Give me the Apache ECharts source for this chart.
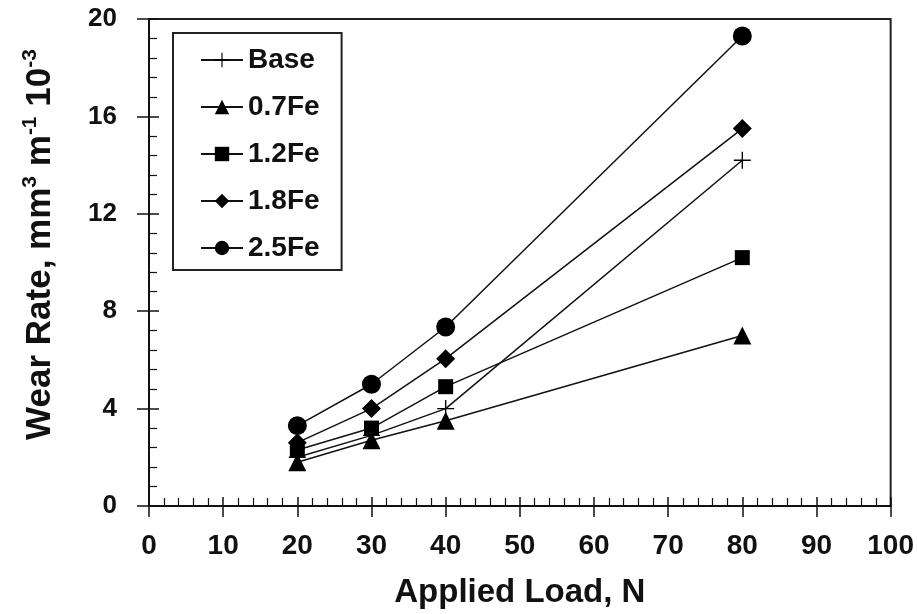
<!DOCTYPE html>
<html>
<head>
<meta charset="utf-8">
<script src="https://cdn.jsdelivr.net/npm/echarts@6/dist/echarts.min.js"></script>
<style>
  html, body { margin: 0; padding: 0; background: #fff; }
  #chart { width: 917px; height: 614px; }
</style>
</head>
<body>
<div id="chart"></div>
<script>
// Applied load (N) for each test
const loads = [20, 30, 40, 80];

// Wear rate (mm^3 m^-1 x10^-3) per alloy
const seriesNames = ['Base', '0.7Fe', '1.2Fe', '1.8Fe', '2.5Fe'];
const wearBase = [2.0, 2.9, 4.0, 14.2];
const wear07Fe = [1.8, 2.7, 3.5, 7.0];
const wear12Fe = [2.3, 3.2, 4.9, 10.2];
const wear18Fe = [2.6, 4.0, 6.05, 15.5];
const wear25Fe = [3.3, 5.0, 7.35, 19.3];

const xTicks = { min: 0, max: 100, interval: 10 };
const yTicks = { min: 0, max: 20, interval: 4 };

const FONT = '"Liberation Sans", Arial, sans-serif';

// thin plus sign drawn as a filled outline
const plusPath = 'path://M4.6,0 H5.4 V4.6 H10 V5.4 H5.4 V10 H4.6 V5.4 H0 V4.6 H4.6 Z';

const markers = [
  { symbol: plusPath, size: 17 },
  { symbol: 'triangle', size: 18 },
  { symbol: 'rect', size: 15 },
  { symbol: 'diamond', size: 19 },
  { symbol: 'circle', size: 19 }
];
const values = [wearBase, wear07Fe, wear12Fe, wear18Fe, wear25Fe];

const series = seriesNames.map((name, i) => ({
  name: name,
  type: 'line',
  xAxisIndex: 0,
  yAxisIndex: 0,
  data: loads.map((x, j) => [x, values[i][j]]),
  symbol: markers[i].symbol,
  symbolSize: markers[i].size,
  showAllSymbol: true,
  lineStyle: { color: '#111', width: 1.5 },
  itemStyle: { color: '#000' },
  z: 2 + i
}));

const chart = echarts.init(document.getElementById('chart'), null, { renderer: 'canvas' });

chart.setOption({
  animation: false,
  backgroundColor: '#fff',
  grid: {
    left: 149, right: 25, top: 19, bottom: 107,
    show: true, borderColor: '#222', borderWidth: 2, backgroundColor: 'transparent'
  },
  legend: {
    orient: 'vertical',
    left: 173, top: 33,
    data: seriesNames,
    itemWidth: 42, itemHeight: 18, itemGap: 19,
    padding: [13, 22, 8, 27],
    borderColor: '#222', borderWidth: 2,
    backgroundColor: '#fff',
    textStyle: { fontFamily: FONT, fontWeight: 'bold', fontSize: 28, color: '#111' }
  },
  xAxis: [
    {
      type: 'value', min: xTicks.min, max: xTicks.max, interval: xTicks.interval,
      name: 'Applied Load, N', nameLocation: 'middle', nameGap: 70,
      nameTextStyle: { fontFamily: FONT, fontWeight: 'bold', fontSize: 33, color: '#111' },
      axisLine: { show: true, lineStyle: { color: '#111', width: 2 } },
      axisTick: { show: true, inside: true, length: 9, lineStyle: { color: '#111', width: 1.5 } },
      minorTick: { show: true, splitNumber: 5, length: 8, lineStyle: { color: '#111', width: 1.2 } },
      axisLabel: { fontFamily: FONT, fontWeight: 'bold', fontSize: 28, color: '#111', margin: 26 },
      splitLine: { show: false }
    },
    {
      type: 'value', min: xTicks.min, max: xTicks.max, interval: xTicks.interval,
      position: 'bottom',
      axisLine: { show: false },
      axisTick: { show: true, inside: false, length: 11, lineStyle: { color: '#111', width: 1.5 } },
      axisLabel: { show: false },
      splitLine: { show: false }
    }
  ],
  yAxis: [
    {
      type: 'value', min: yTicks.min, max: yTicks.max, interval: yTicks.interval,
      name: '{t|Wear Rate, mm}{s|3}{t| m}{s|-1}{t| 10}{s|-3}',
      nameLocation: 'middle', nameGap: 88, nameRotate: 90,
      nameTextStyle: {
        padding: [0, 0, 0, 36],
        rich: {
          t: { fontFamily: FONT, fontWeight: 'bold', fontSize: 35, color: '#111' },
          s: { fontFamily: FONT, fontWeight: 'bold', fontSize: 21, color: '#111', verticalAlign: 'top', padding: [0, 0, 20, 0] }
        }
      },
      axisLine: { show: true, lineStyle: { color: '#111', width: 2 } },
      axisTick: { show: true, inside: true, length: 10, lineStyle: { color: '#111', width: 1.5 } },
      minorTick: { show: true, splitNumber: 5, length: 8, lineStyle: { color: '#111', width: 1.2 } },
      axisLabel: { fontFamily: FONT, fontWeight: 'bold', fontSize: 26, color: '#111', margin: 32 },
      splitLine: { show: false }
    },
    {
      type: 'value', min: yTicks.min, max: yTicks.max, interval: yTicks.interval,
      position: 'left',
      axisLine: { show: false },
      axisTick: { show: true, inside: false, length: 12, lineStyle: { color: '#111', width: 1.5 } },
      axisLabel: { show: false },
      splitLine: { show: false }
    }
  ],
  series: series
});
</script>
</body>
</html>
